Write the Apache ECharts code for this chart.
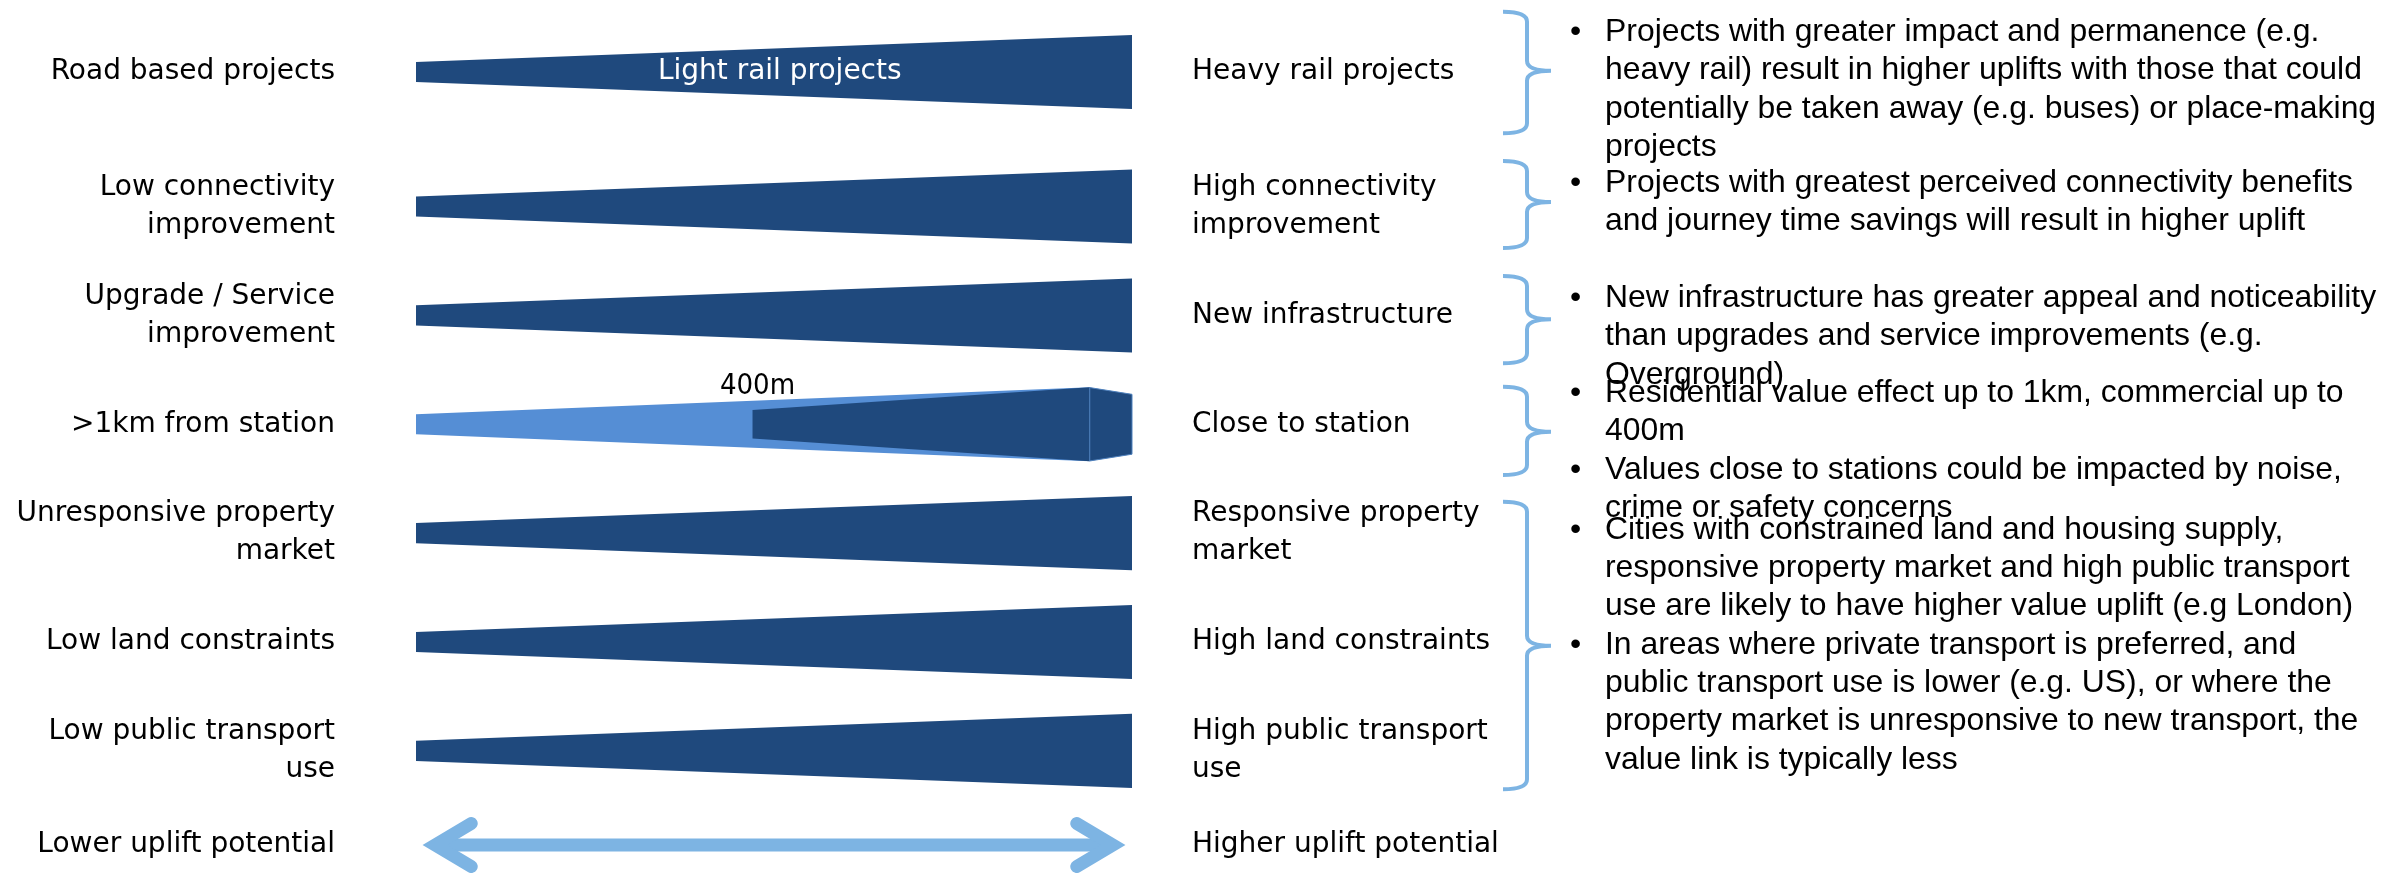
<!DOCTYPE html>
<html><head><meta charset="utf-8">
<script src="https://cdn.jsdelivr.net/npm/echarts@6/dist/echarts.min.js"></script>
<style>html,body{margin:0;padding:0;background:#fff}#c{width:2387px;height:873px}</style>
</head><body><div id="c"></div>
<script>
// ---------- data ----------
const lowLabels = ['Road based projects', 'Low connectivity\nimprovement', 'Upgrade / Service\nimprovement', '>1km from station', 'Unresponsive property\nmarket', 'Low land constraints', 'Low public transport\nuse'];
const highLabels = ['Heavy rail projects', 'High connectivity\nimprovement', 'New infrastructure', 'Close to station', 'Responsive property\nmarket', 'High land constraints', 'High public transport\nuse'];
const scaleLow = 'Lower uplift potential';
const scaleHigh = 'Higher uplift potential';
// position along the low -> high spectrum (0..100)
const wedgeFrom = [0, 0, 0, 0, 0, 0, 0];
const wedgeTo = [100, 100, 100, 94.1, 100, 100, 100];
// wedge thickness, % of a row
const thickLow = [18.5, 18.5, 18.5, 18.5, 18.5, 18.5, 18.5];
const thickHigh = [68, 68, 68, 68, 68, 68, 68];
const wedgeTone = ['dark', 'dark', 'dark', 'light', 'dark', 'dark', 'dark'];
const wedgeCaptions = ['Light rail projects', '', '', '', '', '', ''];
const captionAt = 50.8;
const stationRow = 3;
const commercialReach = [47, 94.1];
const commercialThick = [26.1, 68];
const capSpan = [94.1, 100];
const capThick = [67.4, 55];
const reachLabel = '400m';
const reachLabelAt = 47.7;
const arrowSpan = [0.8, 99.2];
const noteGroups = [
  ['Projects with greater impact and permanence (e.g.\nheavy rail) result in higher uplifts with those that could\npotentially be taken away (e.g. buses) or place-making\nprojects'],
  ['Projects with greatest perceived connectivity benefits\nand journey time savings will result in higher uplift'],
  ['New infrastructure has greater appeal and noticeability\nthan upgrades and service improvements (e.g.\nOverground)'],
  ['Residential value effect up to 1km, commercial up to\n400m', 'Values close to stations could be impacted by noise,\ncrime or safety concerns'],
  ['Cities with constrained land and housing supply,\nresponsive property market and high public transport\nuse are likely to have higher value uplift (e.g London)', 'In areas where private transport is preferred, and\npublic transport use is lower (e.g. US), or where the\nproperty market is unresponsive to new transport, the\nvalue link is typically less']
];

// ---------- layout / style ----------
const DARK = '#1F497D', LIGHT = '#558ED5', PALE = '#7DB4E3';
const LABEL_FONT = '"DejaVu Sans", sans-serif';
const SMALL_FONT = '"DejaVu Sans Condensed", "DejaVu Sans", sans-serif';
const NOTE_FONT = '"Liberation Sans", Arial, sans-serif';
const LABEL_SIZE = 28;
const NOTE_SIZE = 31.9;
const gridRows = [[0], [1, 2, 3, 4, 5, 6]];
const grids = [
  {left: 416, width: 716, top: 17.5, height: 109},
  {left: 416, width: 716, top: 152.1, height: 653.2},
  {left: 416, width: 716, top: 818, height: 54}
];
const braceBoxes = [[11.7, 70.7, 133.3], [161, 202, 248], [276, 319.3, 363.3], [386.7, 431.7, 475], [501.7, 645.7, 789.3]];
const braceX = 1503;
const noteTops = [[13], [164], [279], [374, 450.7], [510.7, 625.7]];

function wedgePts(api, x0, x1, row, t0, t1) {
  const a = api.coord([x0, row]), b = api.coord([x1, row]);
  const band = api.size([0, 1])[1];
  const h0 = band * t0 / 200, h1 = band * t1 / 200;
  return [[a[0], a[1] - h0], [b[0], b[1] - h1], [b[0], b[1] + h1], [a[0], a[1] + h0]];
}

const xAxis = grids.map((g, i) => ({type: 'value', gridIndex: i, min: 0, max: 100, show: false}));
const yAxis = [];
const catsLow = [gridRows[0].map(r => lowLabels[r]), gridRows[1].map(r => lowLabels[r]), [scaleLow]];
const catsHigh = [gridRows[0].map(r => highLabels[r]), gridRows[1].map(r => highLabels[r]), [scaleHigh]];
const axisCommon = {type: 'category', inverse: true, axisLine: {show: false}, axisTick: {show: false}, splitLine: {show: false}};
grids.forEach((g, i) => {
  yAxis.push(Object.assign({}, axisCommon, {gridIndex: i, position: 'left', data: catsLow[i],
    axisLabel: {interval: 0, margin: 81, fontSize: LABEL_SIZE, lineHeight: 38, fontFamily: LABEL_FONT, color: '#000', align: 'right'}}));
  yAxis.push(Object.assign({}, axisCommon, {gridIndex: i, position: 'right', data: catsHigh[i],
    axisLabel: {interval: 0, margin: 60, fontSize: LABEL_SIZE, lineHeight: 38, fontFamily: LABEL_FONT, color: '#000', align: 'left'}}));
});

const series = [];
gridRows.forEach((rows, gi) => {
  series.push({
    type: 'custom', xAxisIndex: gi, yAxisIndex: gi * 2, silent: true,
    data: rows.map((r, k) => [wedgeFrom[r], wedgeTo[r], k, thickLow[r], thickHigh[r], r]),
    renderItem(params, api) {
      const r = api.value(5), k = api.value(2);
      const children = [{type: 'polygon', shape: {points: wedgePts(api, api.value(0), api.value(1), k, api.value(3), api.value(4))},
        style: {fill: wedgeTone[r] === 'light' ? LIGHT : DARK}}];
      if (wedgeCaptions[r]) {
        const p = api.coord([captionAt, k]);
        children.push({type: 'text', x: p[0], y: p[1], style: {text: wedgeCaptions[r], fill: '#fff', fontSize: LABEL_SIZE, fontFamily: LABEL_FONT, align: 'center', verticalAlign: 'middle'}});
      }
      return {type: 'group', children};
    }
  });
});
const stationK = gridRows[1].indexOf(stationRow);
series.push({
  type: 'custom', xAxisIndex: 1, yAxisIndex: 2, silent: true,
  data: [[commercialReach[0], commercialReach[1], stationK, commercialThick[0], commercialThick[1]]],
  renderItem(params, api) {
    const k = api.value(2);
    const p = api.coord([reachLabelAt, k]);
    const band = api.size([0, 1])[1];
    return {type: 'group', children: [
      {type: 'polygon', shape: {points: wedgePts(api, api.value(0), api.value(1), k, api.value(3), api.value(4))}, style: {fill: DARK}},
      {type: 'text', x: p[0], y: p[1] - band * 0.346, style: {text: reachLabel, fill: '#000', fontSize: 29, fontFamily: SMALL_FONT, align: 'center', verticalAlign: 'middle'}}
    ]};
  }
});
series.push({
  type: 'custom', xAxisIndex: 1, yAxisIndex: 2, silent: true,
  data: [[capSpan[0], capSpan[1], stationK, capThick[0], capThick[1]]],
  renderItem(params, api) {
    return {type: 'polygon', shape: {points: wedgePts(api, api.value(0), api.value(1), api.value(2), api.value(3), api.value(4))},
      style: {fill: DARK, stroke: '#4F81BD', lineWidth: 1}};
  }
});
series.push({
  type: 'custom', xAxisIndex: 2, yAxisIndex: 4, silent: true,
  data: [[arrowSpan[0], arrowSpan[1], 0]],
  renderItem(params, api) {
    const a = api.coord([api.value(0), 0]), b = api.coord([api.value(1), 0]);
    const y = a[1], w = 13, inset = 13.5, dx = 36, dy = 21.5;
    const L = a[0] + inset, R = b[0] - inset;
    const st = {stroke: PALE, lineWidth: w, fill: null, lineJoin: 'miter', lineCap: 'round'};
    return {type: 'group', children: [
      {type: 'line', shape: {x1: L, y1: y, x2: R, y2: y}, style: {stroke: PALE, lineWidth: w, lineCap: 'butt'}},
      {type: 'polyline', shape: {points: [[L + dx, y - dy], [L, y], [L + dx, y + dy]]}, style: st},
      {type: 'polyline', shape: {points: [[R - dx, y - dy], [R, y], [R - dx, y + dy]]}, style: st}
    ]};
  }
});

function bracePath(x0, top, tip, bottom) {
  const xv = x0 + 24, xt = x0 + 48, r = 10;
  return `M${x0},${top} Q${xv},${top} ${xv},${top + r} L${xv},${tip - r} Q${xv},${tip} ${xt},${tip} ` +
         `Q${xv},${tip} ${xv},${tip + r} L${xv},${bottom - r} Q${xv},${bottom} ${x0},${bottom}`;
}
// braces (annotation decoration) drawn once, via a custom series
series.push({
  type: 'custom', xAxisIndex: 1, yAxisIndex: 2, silent: true, clip: false,
  data: [[0, 0]],
  renderItem() {
    return {type: 'group', children: braceBoxes.map(b => ({
      type: 'path', shape: {pathData: bracePath(braceX, b[0], b[1], b[2])},
      style: {fill: null, stroke: PALE, lineWidth: 4}
    }))};
  }
});

const graphic = [];
noteGroups.forEach((paras, gi) => {
  paras.forEach((t, pi) => {
    const top = noteTops[gi][pi];
    graphic.push({type: 'text', silent: true, style: {text: '•', x: 1570, y: top, font: NOTE_SIZE + 'px ' + NOTE_FONT, lineHeight: 38.3, fill: '#000', verticalAlign: 'top'}});
    graphic.push({type: 'text', silent: true, style: {text: t, x: 1605, y: top, font: NOTE_SIZE + 'px ' + NOTE_FONT, lineHeight: 38.3, fill: '#000', verticalAlign: 'top'}});
  });
});

const chart = echarts.init(document.getElementById('c'), null, {renderer: 'canvas'});
chart.setOption({
  backgroundColor: '#fff',
  animation: false,
  grid: grids.map(g => Object.assign({containLabel: false, outerBoundsMode: 'none'}, g)),
  xAxis, yAxis, series, graphic
});
</script></body></html>
